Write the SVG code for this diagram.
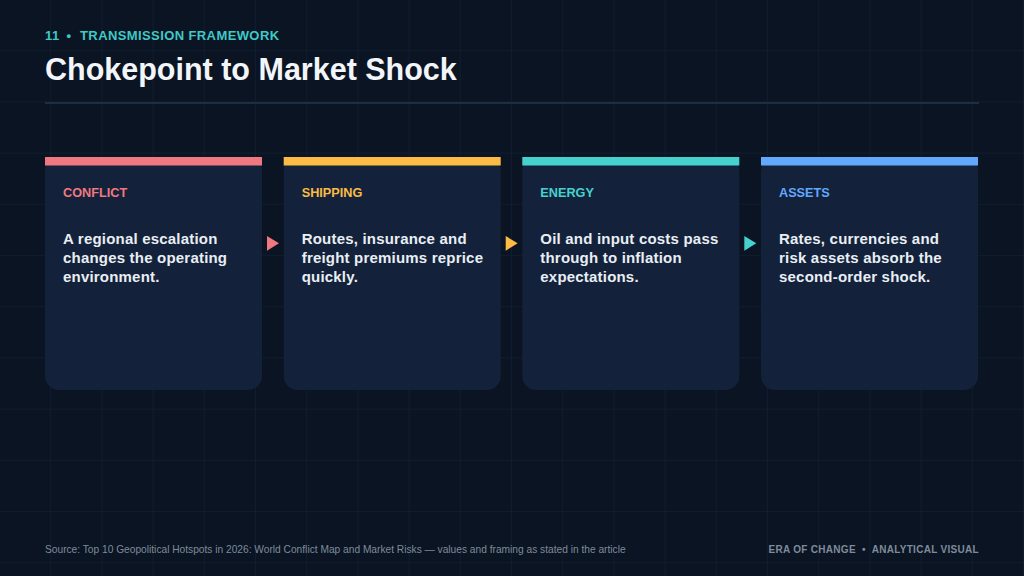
<svg xmlns="http://www.w3.org/2000/svg" width="1024" height="576" viewBox="0 0 1024 576">
<defs>
<pattern id="grid" x="0" y="0" width="51.2" height="51.2" patternUnits="userSpaceOnUse">
<path d="M51.2 0V51.2M0 51.2H51.2" fill="none" stroke="#15233a" stroke-width="1"/>
</pattern>
<style>
.card{fill:#13223a}
.lab{font-family:"Liberation Sans",Arial,sans-serif;font-weight:bold;font-size:12.7px}
.body{font-family:"Liberation Sans",Arial,sans-serif;font-weight:bold;font-size:15px;fill:#e9eef4;letter-spacing:0.2px}
.foot{font-family:"Liberation Sans",Arial,sans-serif;font-size:10.2px;fill:#7f8b9b}
</style>
</defs>
<rect width="1024" height="576" fill="#0a1422"/>
<rect width="1024" height="576" fill="url(#grid)"/>
<text y="40" font-family="Liberation Sans,Arial,sans-serif" font-weight="bold" font-size="13" fill="#3fc9c6" letter-spacing="0.4"><tspan x="45">11</tspan><tspan x="66.5">•</tspan><tspan x="80">TRANSMISSION FRAMEWORK</tspan></text>
<text x="45" y="80" font-family="Liberation Sans,Arial,sans-serif" font-weight="bold" font-size="30.5" fill="#f2f5f9">Chokepoint to Market Shock</text>
<rect x="45" y="102" width="934" height="2" fill="#1e2d40"/>
<g id="node-conflict">
<rect class="card" x="45" y="157" width="217" height="233" rx="14"/>
<rect x="45" y="157" width="217" height="8.5" fill="#f07880"/>
<text class="lab" x="63" y="197" fill="#f07880">CONFLICT</text>
<text class="body" x="63" y="244">A regional escalation<tspan x="63" dy="19">changes the operating</tspan><tspan x="63" dy="19">environment.</tspan></text>
</g>
<g id="node-shipping">
<rect class="card" x="283.7" y="157" width="217" height="233" rx="14"/>
<rect x="283.7" y="157" width="217" height="8.5" fill="#fbbb44"/>
<text class="lab" x="301.7" y="197" fill="#fbbb44">SHIPPING</text>
<text class="body" x="301.7" y="244">Routes, insurance and<tspan x="301.7" dy="19">freight premiums reprice</tspan><tspan x="301.7" dy="19">quickly.</tspan></text>
</g>
<g id="node-energy">
<rect class="card" x="522.3" y="157" width="217" height="233" rx="14"/>
<rect x="522.3" y="157" width="217" height="8.5" fill="#45d2cf"/>
<text class="lab" x="540.3" y="197" fill="#45d2cf">ENERGY</text>
<text class="body" x="540.3" y="244">Oil and input costs pass<tspan x="540.3" dy="19">through to inflation</tspan><tspan x="540.3" dy="19">expectations.</tspan></text>
</g>
<g id="node-assets">
<rect class="card" x="761" y="157" width="217" height="233" rx="14"/>
<rect x="761" y="157" width="217" height="8.5" fill="#62a8ff"/>
<text class="lab" x="779" y="197" fill="#62a8ff">ASSETS</text>
<text class="body" x="779" y="244">Rates, currencies and<tspan x="779" dy="19">risk assets absorb the</tspan><tspan x="779" dy="19">second-order shock.</tspan></text>
</g>
<g id="connectors">
<polygon points="267,236 279,243.3 267,250.7" fill="#f07880"/>
<polygon points="505.7,236 517.7,243.3 505.7,250.7" fill="#fbbb44"/>
<polygon points="744.3,236 756.3,243.3 744.3,250.7" fill="#45d2cf"/>
</g>
<text class="foot" x="45" y="553">Source: Top 10 Geopolitical Hotspots in 2026: World Conflict Map and Market Risks — values and framing as stated in the article</text>
<text x="979" y="553" text-anchor="end" font-family="Liberation Sans,Arial,sans-serif" font-weight="bold" font-size="10" fill="#7f8b9b" letter-spacing="0.3" xml:space="preserve">ERA OF CHANGE  •  ANALYTICAL VISUAL</text>
</svg>
